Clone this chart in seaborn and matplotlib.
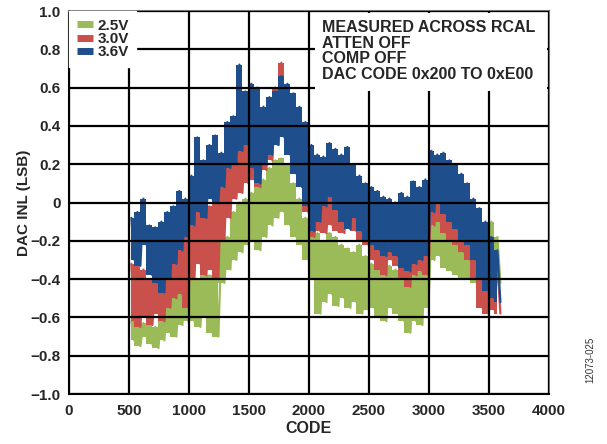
import numpy as np
import pandas as pd
import matplotlib
matplotlib.use("Agg")
import matplotlib.pyplot as plt
from matplotlib.patches import Rectangle
from matplotlib.lines import Line2D
import seaborn as sns

# DAC code sample grid (each bin: upper envelope at code, lower envelope at code+25)
codes = list(range(520, 3600, 50))

# 3.6V series envelope (LSB)
blue_hi = [-0.08, -0.05, 0.02, -0.12, -0.13, -0.10, -0.05, -0.02, 0.06, 0.02,
           0.14, 0.34, 0.22, 0.30, 0.35, 0.26, 0.42, 0.45, 0.72, 0.58,
           0.62, 0.60, 0.50, 0.55, 0.58, 0.66, 0.62, 0.57, 0.50, 0.42,
           0.30, 0.25, 0.24, 0.31, 0.28, 0.25, 0.29, 0.20, 0.14, 0.10,
           0.08, 0.06, 0.03, 0.02, 0.00, 0.05, 0.03, 0.11, 0.08, 0.12,
           0.27, 0.25, 0.26, 0.22, 0.20, 0.15, 0.10, 0.02, -0.03, -0.10,
           -0.18, -0.25]
blue_lo = [-0.30, -0.33, -0.22, -0.38, -0.42, -0.47, -0.40, -0.32, -0.25, -0.18,
           -0.12, -0.05, -0.08, 0.02, 0.00, 0.08, 0.18, 0.20, 0.27, 0.30,
           0.18, 0.10, 0.20, 0.25, 0.30, 0.34, 0.25, 0.15, 0.08, -0.02,
           -0.15, -0.10, -0.02, 0.03, -0.04, -0.10, -0.14, -0.08, -0.15, -0.20,
           -0.22, -0.25, -0.28, -0.26, -0.28, -0.34, -0.36, -0.32, -0.30, -0.28,
           -0.05, 0.00, -0.06, -0.10, -0.14, -0.20, -0.22, -0.30, -0.40, -0.46,
           -0.50, -0.52]

# 3.0V series envelope (LSB)
red_hi = [-0.32, -0.28, -0.35, -0.40, -0.42, -0.38, -0.30, -0.25, -0.22, -0.12,
          -0.05, -0.04, -0.06, -0.02, 0.00, 0.18, 0.22, 0.28, 0.30, 0.33,
          0.36, 0.42, 0.48, 0.52, 0.60, 0.73, 0.60, 0.50, 0.42, 0.30,
          0.15, 0.12, 0.10, 0.08, 0.06, 0.05, 0.08, 0.03, 0.00, -0.05,
          -0.10, -0.12, -0.05, 0.02, -0.08, -0.12, -0.15, -0.10, -0.08, -0.05,
          0.06, 0.08, 0.02, 0.00, -0.05, -0.10, -0.15, -0.22, -0.28, -0.30,
          -0.28, -0.32]
red_lo = [-0.62, -0.65, -0.60, -0.64, -0.58, -0.62, -0.55, -0.50, -0.48, -0.55,
          -0.40, -0.32, -0.38, -0.35, -0.40, -0.20, -0.08, 0.02, 0.05, 0.10,
          0.12, 0.08, 0.17, 0.22, 0.30, 0.35, 0.25, 0.18, 0.08, -0.05,
          -0.18, -0.15, -0.16, -0.12, -0.15, -0.16, -0.12, -0.15, -0.20, -0.22,
          -0.30, -0.35, -0.38, -0.30, -0.33, -0.40, -0.44, -0.38, -0.36, -0.38,
          -0.12, -0.10, -0.16, -0.20, -0.22, -0.26, -0.30, -0.40, -0.55, -0.58,
          -0.56, -0.58]

# 2.5V series envelope (LSB)
green_hi = [-0.62, -0.60, -0.63, -0.62, -0.65, -0.58, -0.50, -0.48, -0.42, -0.38,
            -0.33, -0.40, -0.36, -0.38, -0.30, -0.20, -0.18, -0.05, 0.00, 0.02,
            0.05, 0.08, 0.12, 0.18, 0.22, 0.23, 0.20, 0.10, 0.02, -0.08,
            -0.18, -0.16, -0.20, -0.16, -0.18, -0.22, -0.24, -0.26, -0.22, -0.28,
            -0.32, -0.35, -0.30, -0.33, -0.35, -0.38, -0.40, -0.35, -0.25, -0.20,
            -0.12, -0.05, -0.06, -0.15, -0.18, -0.25, -0.28, -0.30, -0.35, -0.22,
            -0.10, -0.18]
green_lo = [-0.72, -0.75, -0.70, -0.74, -0.76, -0.72, -0.68, -0.70, -0.64, -0.62,
            -0.62, -0.65, -0.60, -0.68, -0.70, -0.42, -0.35, -0.30, -0.26, -0.22,
            -0.20, -0.25, -0.18, -0.12, -0.08, -0.05, -0.12, -0.18, -0.22, -0.30,
            -0.40, -0.58, -0.52, -0.48, -0.54, -0.50, -0.55, -0.52, -0.58, -0.56,
            -0.55, -0.60, -0.62, -0.55, -0.58, -0.62, -0.68, -0.62, -0.64, -0.55,
            -0.30, -0.28, -0.34, -0.36, -0.38, -0.40, -0.40, -0.42, -0.45, -0.45,
            -0.45, -0.42]

series_names = ["2.5V", "3.0V", "3.6V"]
series_colors = ["#9BBB59", "#C9504B", "#1F4E8C"]

x_ticks = [0, 500, 1000, 1500, 2000, 2500, 3000, 3500, 4000]
y_ticks = [-1.0, -0.8, -0.6, -0.4, -0.2, 0.0, 0.2, 0.4, 0.6, 0.8, 1.0]
y_tick_labels = ["\u22121.0", "\u22120.8", "\u22120.6", "\u22120.4", "\u22120.2",
                 "0", "0.2", "0.4", "0.6", "0.8", "1.0"]

note_text = "MEASURED ACROSS RCAL\nATTEN OFF\nCOMP OFF\nDAC CODE 0x200 TO 0xE00"

sns.set_style("white")
plt.rcParams["font.family"] = ["Liberation Sans", "DejaVu Sans"]
plt.rcParams["font.weight"] = "bold"


def zigzag(hi, lo):
    xs, ys = [], []
    for c, h, l in zip(codes, hi, lo):
        xs += [c, c + 25]
        ys += [h, l]
    return xs, ys


fig = plt.figure(figsize=(6.07, 4.44), dpi=100)
ax = fig.add_axes([69 / 607, 1 - 394 / 444, 480 / 607, 383 / 444])

his = [green_hi, red_hi, blue_hi]
los = [green_lo, red_lo, blue_lo]
for k, (name, col, hi, lo) in enumerate(zip(series_names, series_colors, his, los)):
    z = 1.2 + 0.2 * k
    ax.fill_between(codes, lo, hi, step="mid", color=col, lw=0, zorder=z)
    xs, ys = zigzag(hi, lo)
    d = pd.DataFrame({"code": xs, "inl": ys})
    sns.lineplot(data=d, x="code", y="inl", color=col, sort=False, estimator=None,
                 lw=1.6, ax=ax, zorder=z + 0.05)

ax.set_xlim(0, 4000)
ax.set_ylim(-1.0, 1.0)
ax.set_xticks(x_ticks)
ax.set_xticklabels([str(v) for v in x_ticks], fontsize=11, fontweight="bold")
ax.set_yticks(y_ticks)
ax.set_yticklabels(y_tick_labels, fontsize=11, fontweight="bold")
ax.set_axisbelow(False)
ax.grid(True, color="black", lw=1.6)

for side in ["left", "bottom"]:
    ax.spines[side].set_color("black")
    ax.spines[side].set_linewidth(1.5)
for side in ["top", "right"]:
    ax.spines[side].set_color("#707070")
    ax.spines[side].set_linewidth(1.5)
ax.tick_params(axis="y", length=5, width=1.5, color="black", pad=1)
ax.tick_params(axis="x", length=3, width=1.5, color="black", pad=4)

ax.set_xlabel("CODE", fontsize=11.5, fontweight="bold", labelpad=2)
ax.set_ylabel("DAC INL (LSB)", fontsize=11, fontweight="bold", labelpad=0)

# white box behind annotation
ax.add_patch(Rectangle(((315 - 69) / 480, 1 - (91 - 11) / 383), (547 - 315) / 480,
                       (91 - 13) / 383, transform=ax.transAxes, fc="white",
                       ec="none", zorder=3))
ax.text((322 - 69) / 480, 1 - 9 / 383, note_text, transform=ax.transAxes, va="top",
        ha="left", fontsize=11.5, fontweight="bold", zorder=4, linespacing=1.05)

handles = [Line2D([0], [0], color=c, lw=5, solid_capstyle="butt") for c in series_colors]
leg = ax.legend(handles, series_names, loc="upper left", bbox_to_anchor=(0.0, 1.0),
                frameon=True, framealpha=1, facecolor="white", edgecolor="white",
                fancybox=False, handlelength=1.05, handletextpad=0.3,
                labelspacing=-0.05, borderpad=0.5, borderaxespad=0.0,
                prop={"size": 11, "weight": "bold"})
leg.set_zorder(5)

fig.text(590 / 607, 1 - 360 / 444, "12073-025", rotation=90, fontsize=7,
         fontweight="normal", color="#333333", ha="center", va="center")

fig.savefig("out.png", dpi=100)
